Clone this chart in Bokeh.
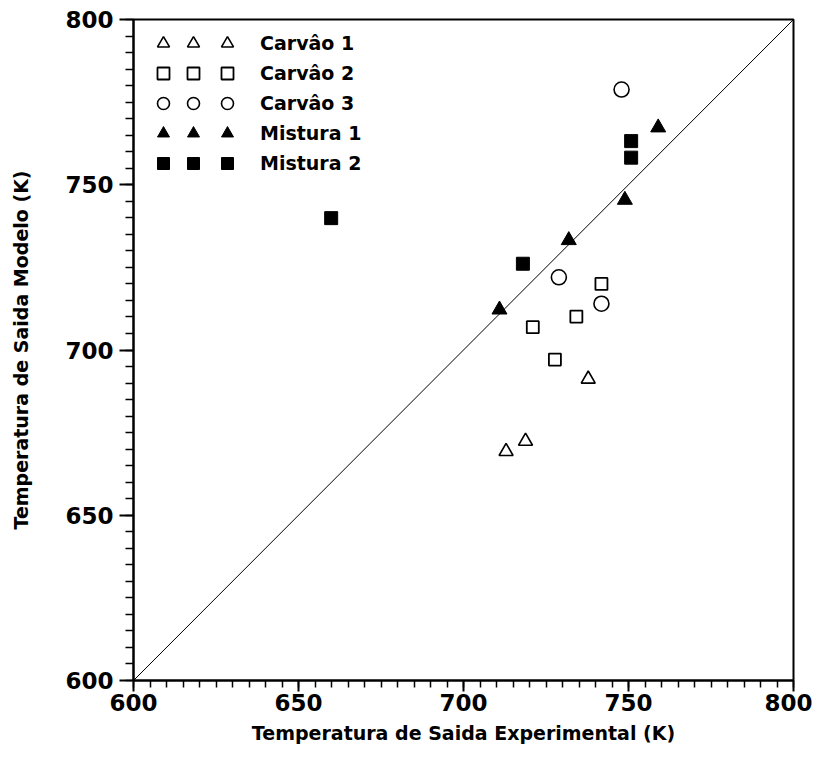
from bokeh.plotting import figure
from bokeh.models import Range1d, SingleIntervalTicker, Legend, LegendItem
from bokeh.core.properties import value
from bokeh.embed import file_html
from bokeh.resources import INLINE

# ---- data ----
carvao1_x = [712.9, 718.8, 737.8]
carvao1_y = [669.3, 672.4, 691.2]
carvao2_x = [741.8, 734.2, 721.0, 727.7]
carvao2_y = [720.0, 710.1, 706.9, 697.1]
carvao3_x = [728.9, 741.8, 747.9]
carvao3_y = [722.0, 714.0, 778.8]
mistura1_x = [710.9, 731.9, 748.9, 759.0]
mistura1_y = [712.2, 733.2, 745.4, 767.3]
mistura2_x = [659.9, 718.0, 750.8, 750.8]
mistura2_y = [739.9, 726.1, 763.2, 758.2]
diag = [600, 800]
labels = ["Carvâo 1", "Carvâo 2", "Carvâo 3", "Mistura 1", "Mistura 2"]

FONT = "DejaVu Sans"

p = figure(frame_width=660, frame_height=661,
           x_range=Range1d(600, 800), y_range=Range1d(600, 800),
           output_backend="svg", toolbar_location=None,
           min_border_left=133, min_border_right=19,
           min_border_top=19, min_border_bottom=70)
p.grid.visible = False
p.outline_line_color = "black"
p.outline_line_width = 2
p.background_fill_color = "white"
p.border_fill_color = "white"

for ax in (p.xaxis[0], p.yaxis[0]):
    ax.ticker = SingleIntervalTicker(interval=50, num_minor_ticks=10)
    ax.axis_line_width = 2
    ax.axis_line_color = "black"
    ax.major_tick_in = 0
    ax.minor_tick_in = 0
    ax.major_tick_line_width = 2
    ax.minor_tick_line_width = 1.5
    ax.major_tick_line_color = "black"
    ax.minor_tick_line_color = "black"
    ax.major_label_text_font = FONT
    ax.major_label_text_font_style = "bold"
    ax.major_label_text_font_size = "23px"
    ax.major_label_text_color = "black"
    ax.axis_label_text_font = FONT
    ax.axis_label_text_font_style = "bold"
    ax.axis_label_text_font_size = "19px"
    ax.axis_label_text_color = "black"

p.xaxis.major_tick_out = 11
p.xaxis.minor_tick_out = 7
p.yaxis.major_tick_out = 14
p.yaxis.minor_tick_out = 8
p.xaxis.major_label_standoff = 2
p.yaxis.major_label_standoff = 6
p.xaxis.axis_label = "Temperatura de Saida Experimental (K)"
p.yaxis.axis_label = "Temperatura de Saida Modelo (K)"
p.xaxis.axis_label_standoff = 8
p.yaxis.axis_label_standoff = 30

p.line(diag, diag, line_color="black", line_width=1)

r1 = p.scatter(carvao1_x, carvao1_y, marker="triangle", size=14,
               fill_color=None, line_color="black", line_width=1.6)
r2 = p.scatter(carvao2_x, carvao2_y, marker="square", size=12,
               fill_color=None, line_color="black", line_width=1.8)
r3 = p.scatter(carvao3_x, carvao3_y, marker="circle", size=15,
               fill_color=None, line_color="black", line_width=1.6)
r4 = p.scatter(mistura1_x, mistura1_y, marker="triangle", size=15,
               fill_color="black", line_color="black", line_width=1)
r5 = p.scatter(mistura2_x, mistura2_y, marker="square", size=13,
               fill_color="black", line_color="black", line_width=1)
renderers = [r1, r2, r3, r4, r5]


def make_legend(xoff, with_labels):
    items = []
    for lab, r in zip(labels, renderers):
        items.append(LegendItem(label=value(lab if with_labels else " "),
                                renderers=[r]))
    lg = Legend(items=items, location=(xoff, 502), orientation="vertical",
                glyph_width=30, glyph_height=30, label_height=30,
                label_width=20, spacing=0, padding=0, margin=0,
                label_standoff=18,
                background_fill_alpha=0, border_line_alpha=0,
                label_text_font=FONT, label_text_font_style="bold",
                label_text_font_size="19px" if with_labels else "6px",
                label_text_color="black",
                click_policy="none")
    return lg


p.add_layout(make_legend(15, False))
p.add_layout(make_legend(45, False))
p.add_layout(make_legend(79, True))

open("out.html", "w").write(file_html(p, INLINE))
